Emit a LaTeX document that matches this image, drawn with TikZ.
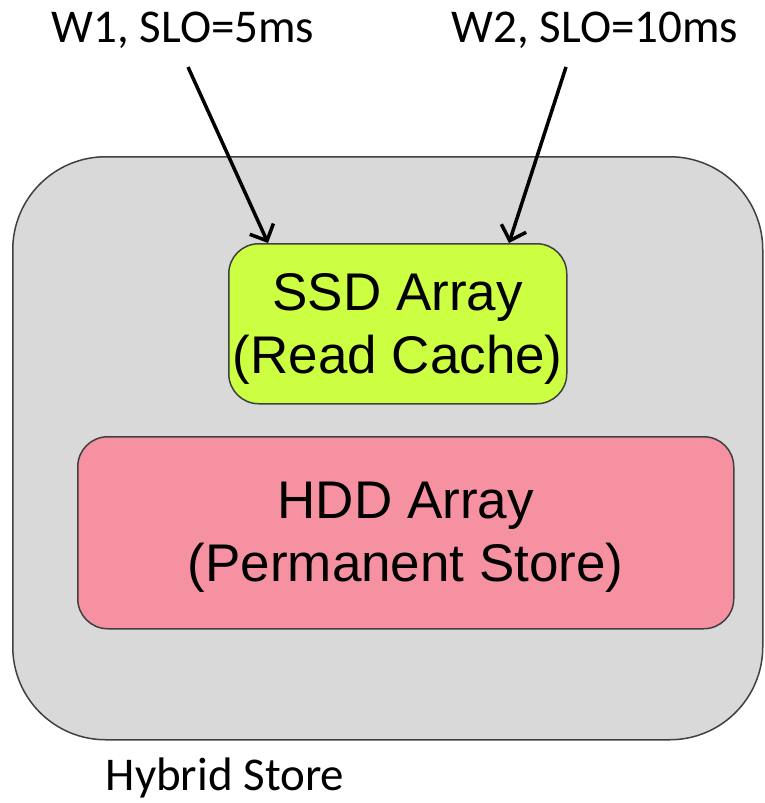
\documentclass[tikz,border=0pt]{standalone}
\usepackage{fontspec}
\setmainfont{Carlito}
\newfontfamily\arialf{Liberation Sans}
\usetikzlibrary{arrows.meta}
\definecolor{boxgray}{HTML}{D9D9D9}
\definecolor{ssdgreen}{HTML}{CCFF42}
\definecolor{hddpink}{HTML}{F691A1}
\definecolor{edgegray}{HTML}{404040}
\begin{document}
\begin{tikzpicture}[x=1pt,y=-1pt,
  container/.style={draw=edgegray,line width=1.5pt,fill=boxgray,rounded corners=93pt,anchor=north west,inner sep=0pt},
  inbox/.style={draw=edgegray,line width=1.5pt,rounded corners=30pt,anchor=north west,inner sep=0pt,align=center,
    font=\arialf\fontsize{53pt}{63pt}\selectfont},
  lbl/.style={font=\fontsize{47pt}{56pt}\selectfont,anchor=base,inner sep=0pt},
  arr/.style={line width=3.5pt,-{Straight Barb[length=13pt,width=26pt]}}]
\useasboundingbox (0,0) rectangle (765,803);
\node[container,minimum width=750pt,minimum height=583pt] (store) at (12,156) {};
\node[inbox,fill=ssdgreen,minimum width=338pt,minimum height=160pt] (ssd) at (228,243) {\rule{0pt}{48pt}SSD Array\\(Read Cache)};
\node[inbox,fill=hddpink,minimum width=656pt,minimum height=192pt] (hdd) at (77,436) {\rule{0pt}{46pt}HDD Array\\(Permanent Store)};
\node[lbl] (w1) at (183,42) {W1, SLO=5ms};
\node[lbl] (w2) at (595,42) {W2, SLO=10ms};
\node[lbl] (hs) at (225,790) {Hybrid Store};
\coordinate (w1s) at (188,67);
\coordinate (w1e) at (268,243);
\coordinate (w2s) at (566,67);
\coordinate (w2e) at (509,243);
\draw[arr] (w1s) -- (w1e);
\draw[arr] (w2s) -- (w2e);
\end{tikzpicture}
\end{document}
